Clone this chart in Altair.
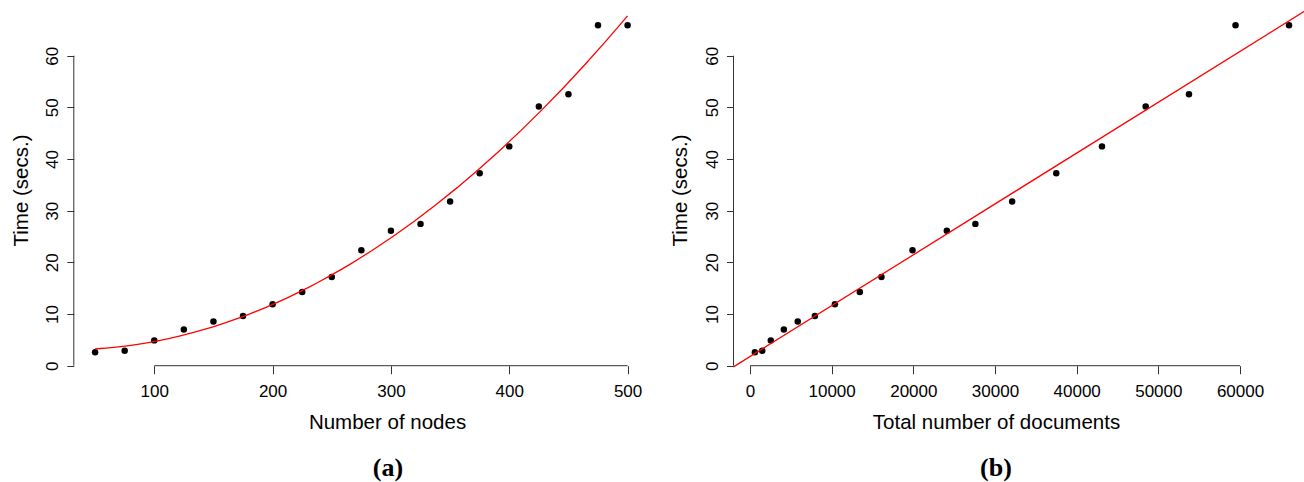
import altair as alt
import pandas as pd

# ---- data ----
nodes = [50, 75, 100, 125, 150, 175, 200, 225, 250, 275, 300, 325, 350, 375, 400, 425, 450, 475, 500]
docs = [600, 1500, 2550, 4150, 5850, 7950, 10400, 13450, 16100, 19900, 24100, 27600,
        32100, 37500, 43100, 48450, 53750, 59450, 66000]
time_secs = [2.6, 2.9, 4.9, 7.0, 8.55, 9.6, 11.9, 14.25, 17.15, 22.35, 26.1, 27.45,
             31.8, 37.25, 42.45, 50.15, 52.55, 65.9, 65.9]

node_ticks = [100, 200, 300, 400, 500]
doc_ticks = [0, 10000, 20000, 30000, 40000, 50000, 60000]
time_ticks = [0, 10, 20, 30, 40, 50, 60]
panel_labels = ["(a)", "(b)"]
x_titles = ["Number of nodes", "Total number of documents"]
y_title = "Time (secs.)"

df_l = pd.DataFrame({"nodes": nodes, "time": time_secs})
df_r = pd.DataFrame({"docs": docs, "time": time_secs})

# ---- layout (pixels) ----
W, H = 1304, 482
X_AXIS_Y = 365.7
Y_RANGE = [365.7, 55.7]           # maps time 0 -> 60
L_DOMAIN, L_RANGE = [32, 518], [73.8, 648.9]
R_DOMAIN, R_RANGE = [-2016, 68616], [733.5, 1310.4]

SANS = "Liberation Sans"
AX_COL = "#333333"


def x_axis(ticks, title, title_x):
    return alt.Axis(values=ticks, orient="bottom", offset=X_AXIS_Y - H, domain=False, grid=False,
                    ticks=True, tickSize=8, tickColor=AX_COL, tickWidth=1,
                    labelFont=SANS, labelFontSize=17, labelColor="black", labelPadding=23,
                    labelBaseline="alphabetic", labelAlign="center", labelFlush=False,
                    labelOverlap=False, format="d",
                    title=title, titleFont=SANS, titleFontSize=20.5, titleFontWeight="normal",
                    titleColor="black", titleX=title_x, titleY=62.6, titleAlign="center",
                    titleBaseline="alphabetic")


def y_axis(axis_x):
    return alt.Axis(values=time_ticks, orient="left", offset=-axis_x, domain=False, grid=False,
                    ticks=True, tickSize=7, tickColor=AX_COL, tickWidth=1,
                    labelFont=SANS, labelFontSize=17, labelColor="black", labelPadding=9,
                    labelAngle=270, labelAlign="center", labelBaseline="alphabetic",
                    labelFlush=False, labelOverlap=False, format="d",
                    title=y_title, titleFont=SANS, titleFontSize=20.5, titleFontWeight="normal",
                    titleColor="black", titleAngle=270, titleX=-46.8, titleY=190,
                    titleAlign="center", titleBaseline="alphabetic")


one_row = alt.Data(values=[{}])


def panel(df, xfield, xdomain, xrange, ticks, title, title_x, reg_kwargs):
    xs = alt.Scale(domain=xdomain, range=xrange, nice=False, zero=False)
    ys = alt.Scale(domain=[time_ticks[0], time_ticks[-1]], range=Y_RANGE, nice=False, zero=False)
    pts = alt.Chart(df).mark_circle(size=42, color="black", opacity=1).encode(
        x=alt.X(f"{xfield}:Q", scale=xs, axis=x_axis(ticks, title, title_x)),
        y=alt.Y("time:Q", scale=ys, axis=y_axis(xrange[0])),
    )
    fit = alt.Chart(df).transform_regression(xfield, "time", **reg_kwargs).mark_line(
        color="#ff0000", strokeWidth=1.3).encode(x=f"{xfield}:Q", y="time:Q")
    xrule = alt.Chart(one_row).mark_rule(color=AX_COL, strokeWidth=1).encode(
        x=alt.datum(ticks[0]), x2=alt.datum(ticks[-1]), y=alt.datum(time_ticks[0]))
    yrule = alt.Chart(one_row).mark_rule(color=AX_COL, strokeWidth=1).encode(
        x=alt.datum(xdomain[0]), y=alt.datum(time_ticks[0]), y2=alt.datum(time_ticks[-1]))
    return alt.layer(pts, xrule, yrule, fit)


left = panel(df_l, "nodes", L_DOMAIN, L_RANGE, node_ticks, x_titles[0], 387,
             dict(method="poly", order=2))
right = panel(df_r, "docs", R_DOMAIN, R_RANGE, doc_ticks, x_titles[1], 996,
              dict(method="linear", extent=R_DOMAIN))


def panel_label(i, px):
    return alt.Chart(alt.Data(values=[{"lab": panel_labels[i]}])).mark_text(
        font="Liberation Serif", fontSize=26, fontWeight="bold", color="black",
        align="center", baseline="alphabetic").encode(
        text="lab:N", x=alt.value(px), y=alt.value(476))


chart = alt.layer(left, right, panel_label(0, 388), panel_label(1, 996)).resolve_scale(
    x="independent", y="independent").properties(
    width=W, height=H, autosize=alt.AutoSizeParams(type="none"), padding=0,
    background="white").configure_view(stroke=None)

chart.save("out.html", embed_options={"renderer": "svg", "actions": False})
